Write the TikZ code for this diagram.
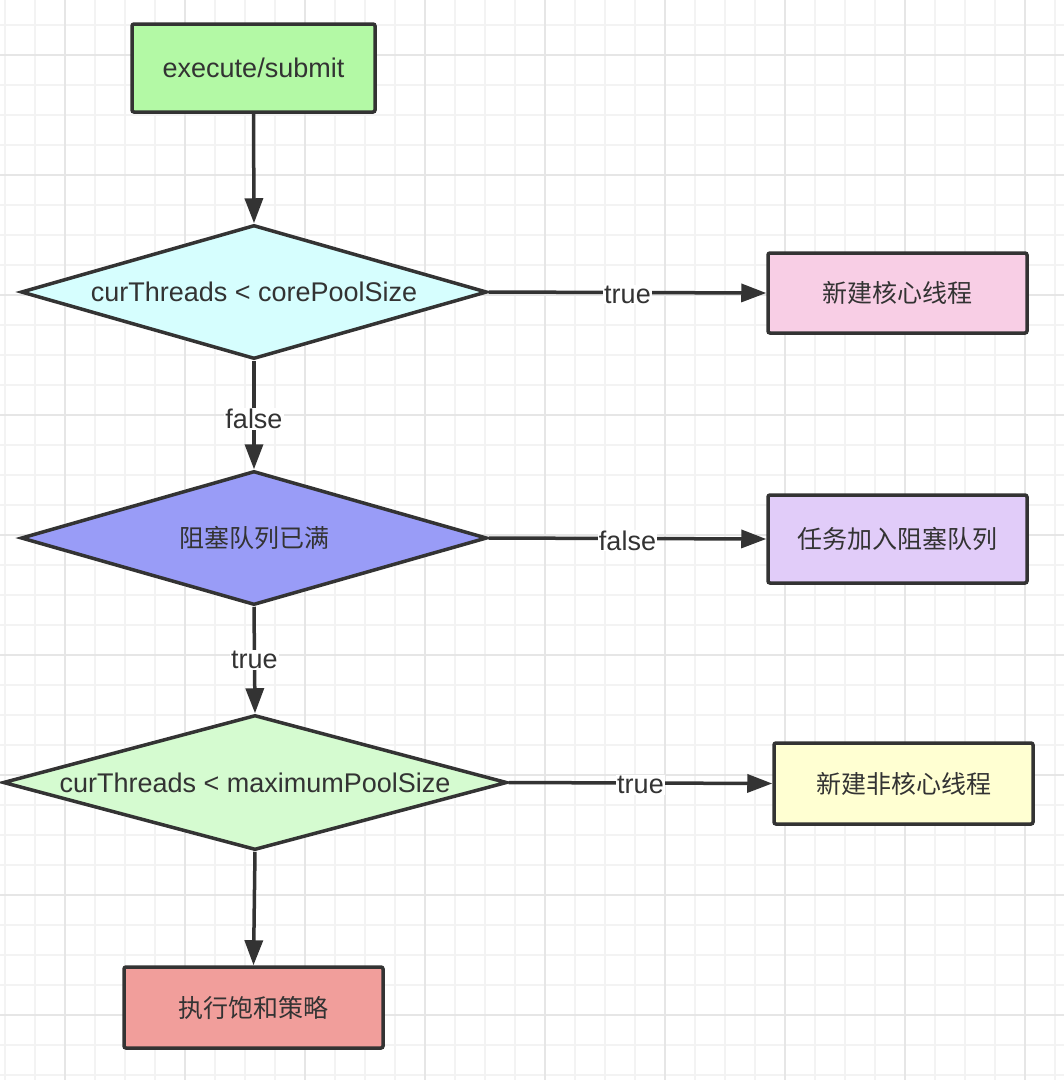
\documentclass[tikz,border=0pt]{standalone}
\usepackage{fontspec}
\setmainfont{Liberation Sans}
\newfontfamily\cjk{Noto Sans CJK SC}
\usetikzlibrary{shapes.geometric,arrows.meta}
\definecolor{ink}{HTML}{333333}
\definecolor{gridminor}{HTML}{F3F3F3}
\definecolor{gridmajor}{HTML}{E6E6E6}
\definecolor{cgreen}{HTML}{B3F9A5}
\definecolor{ccyan}{HTML}{D6FEFE}
\definecolor{cpink}{HTML}{F8CEE5}
\definecolor{cviolet}{HTML}{999CF7}
\definecolor{clav}{HTML}{E1CCF9}
\definecolor{cmint}{HTML}{D5FBD0}
\definecolor{cyellow}{HTML}{FFFFD2}
\definecolor{cred}{HTML}{F19E9B}
\tikzset{
  latin/.style={font=\fontsize{27}{32}\selectfont},
  han/.style={font=\cjk\fontsize{25}{30}\selectfont},
  boxnode/.style={draw=ink, line width=3.5pt, rounded corners=2pt, text=ink, inner sep=0pt},
  decnode/.style={diamond, draw=ink, line width=3.5pt, text=ink, inner sep=0pt, latin},
  flow/.style={draw=ink, line width=3.5pt, -{Triangle[length=25pt,width=18pt]}},
  lbl/.style={fill=white, text=ink, inner sep=1pt, latin}
}
\begin{document}
\begin{tikzpicture}[x=1pt,y=-1pt]
\useasboundingbox[fill=white] (0,0) rectangle (1064,1080);
% grid
\foreach \gx in {5,35,...,1055} \draw[gridminor, line width=1.6pt] (\gx,0) -- (\gx,1080);
\foreach \gy in {25,55,...,1075} \draw[gridminor, line width=1.6pt] (0,\gy) -- (1064,\gy);
\foreach \gx in {65,185,...,1025} \draw[gridmajor, line width=1.6pt] (\gx,0) -- (\gx,1080);
\foreach \gy in {55,175,...,1075} \draw[gridmajor, line width=1.6pt] (0,\gy) -- (1064,\gy);

% nodes
\node[boxnode, fill=cgreen, minimum width=243pt, minimum height=88pt, latin] (start) at (253.5,68) {execute/submit};
\node[decnode, fill=ccyan, minimum width=466pt, minimum height=134pt, shape aspect=3.44] (d1) at (254,292) {curThreads < corePoolSize};
\node[boxnode, fill=cpink, minimum width=259pt, minimum height=80pt, han] (core) at (897.5,293) {新建核心线程};
\node[decnode, fill=cviolet, minimum width=466pt, minimum height=134pt, shape aspect=3.44, han] (d2) at (254,538) {阻塞队列已满};
\node[boxnode, fill=clav, minimum width=259pt, minimum height=88pt, han] (queue) at (897.5,539) {任务加入阻塞队列};
\node[decnode, fill=cmint, minimum width=504pt, minimum height=135pt, shape aspect=3.7] (d3) at (255,782.5) {curThreads < maximumPoolSize};
\node[boxnode, fill=cyellow, minimum width=259pt, minimum height=81pt, han] (noncore) at (903.5,783.5) {新建非核心线程};
\node[boxnode, fill=cred, minimum width=259pt, minimum height=81pt, han] (reject) at (253.5,1007.5) {执行饱和策略};

% connectors
\draw[flow] (start.south) -- (d1.north);
\draw[flow] (d1.east) -- node[lbl, yshift=-2pt]{true} (core.west);
\draw[flow] (d1.south) -- node[lbl, yshift=-4pt]{false} (d2.north);
\draw[flow] (d2.east) -- node[lbl, yshift=-2pt]{false} (queue.west);
\draw[flow] (d2.south) -- node[lbl]{true} (d3.north);
\draw[flow] (d3.east) -- node[lbl, yshift=-2pt]{true} (noncore.west);
\draw[flow] (d3.south) -- (reject.north);
\end{tikzpicture}
\end{document}
